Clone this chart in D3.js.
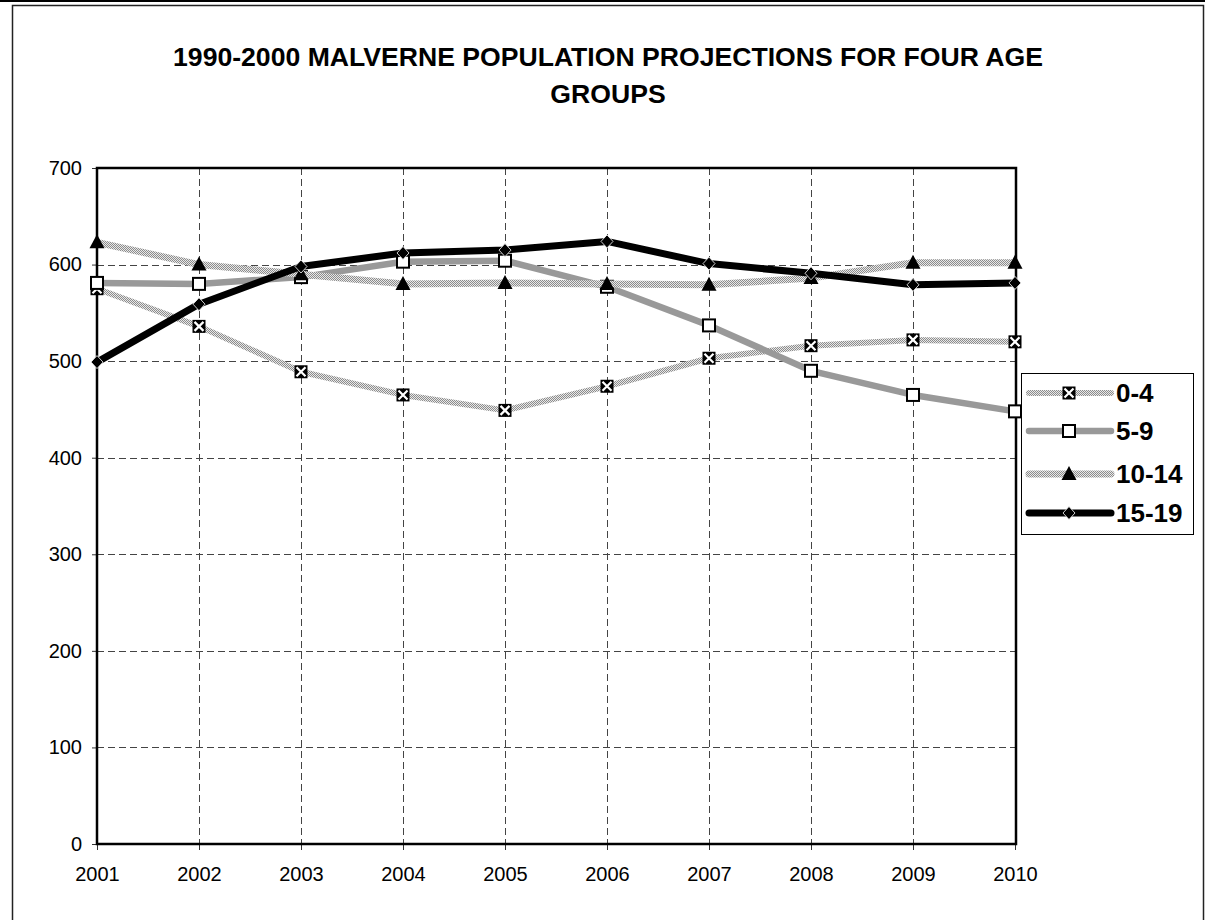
<!DOCTYPE html>
<html>
<head>
<meta charset="utf-8">
<script src="https://cdn.jsdelivr.net/npm/d3@7"></script>
<style>
  html, body { margin: 0; padding: 0; background: #fff; }
  svg { display: block; font-family: "Liberation Sans", Arial, sans-serif; }
</style>
</head>
<body>
<svg id="chart" width="1205" height="920"></svg>
<script>
// Projected population by age group, 2001-2010
const years = [2001, 2002, 2003, 2004, 2005, 2006, 2007, 2008, 2009, 2010];
const age0to4   = [575, 536, 489, 465, 449, 474, 503, 516, 522, 520];
const age5to9   = [581, 580, 587, 603, 604, 577, 537, 490, 465, 448];
const age10to14 = [623, 600, 590, 580, 581, 580, 579, 586, 602, 602];
const age15to19 = [499, 559, 598, 612, 615, 624, 601, 591, 579, 581];
const seriesNames = ["0-4", "5-9", "10-14", "15-19"];
const yTicks = [0, 100, 200, 300, 400, 500, 600, 700];
const titleLines = ["1990-2000 MALVERNE POPULATION PROJECTIONS FOR FOUR AGE", "GROUPS"];

const svg = d3.select("#chart");

// stippled fill used by the 0-4 and 10-14 lines
const defs = svg.append("defs");
const pat = defs.append("pattern").attr("id", "stipple")
  .attr("patternUnits", "userSpaceOnUse").attr("width", 2).attr("height", 2);
pat.append("rect").attr("width", 2).attr("height", 2).attr("fill", "#e8e8e8");
pat.append("rect").attr("x", 0).attr("y", 0).attr("width", 1).attr("height", 1).attr("fill", "#8c8c8c");
pat.append("rect").attr("x", 1).attr("y", 1).attr("width", 1).attr("height", 1).attr("fill", "#8c8c8c");

// page frame
svg.append("line").attr("x1", 0).attr("x2", 1205).attr("y1", 1).attr("y2", 1)
  .attr("stroke", "#000").attr("stroke-width", 2);
svg.append("rect").attr("x", 12.5).attr("y", 5.5).attr("width", 1191).attr("height", 940)
  .attr("fill", "none").attr("stroke", "#222").attr("stroke-width", 1.5);

// title
const title = svg.append("text").attr("text-anchor", "middle")
  .attr("font-weight", "bold").attr("font-size", 26.6).attr("fill", "#000");
titleLines.forEach((t, i) => {
  title.append("tspan").attr("x", 608).attr("y", 66 + i * 37).text(t);
});

const plot = { left: 97, right: 1016, top: 168, bottom: 844 };
const x = d3.scalePoint().domain(years).range([plot.left, plot.right - 1]);
const y = d3.scaleLinear().domain([0, 700]).range([plot.bottom, plot.top]);

// gridlines
const grid = svg.append("g").attr("stroke", "#444").attr("stroke-width", 1)
  .attr("stroke-dasharray", "7,4").attr("shape-rendering", "crispEdges");
grid.selectAll("line.h").data(yTicks.filter(v => v > 0 && v < 700)).join("line")
  .attr("class", "h")
  .attr("x1", plot.left).attr("x2", plot.right)
  .attr("y1", d => Math.round(y(d)) + 0.5).attr("y2", d => Math.round(y(d)) + 0.5);
grid.selectAll("line.v").data(years.slice(1, -1)).join("line")
  .attr("class", "v")
  .attr("x1", d => Math.round(x(d)) + 0.5).attr("x2", d => Math.round(x(d)) + 0.5)
  .attr("y1", plot.top).attr("y2", plot.bottom);

// axes
const yAxis = svg.append("g").attr("transform", `translate(${plot.left},0)`)
  .call(d3.axisLeft(y).tickValues(yTicks).tickSize(5).tickPadding(10));
const xAxis = svg.append("g").attr("transform", `translate(0,${plot.bottom})`)
  .call(d3.axisBottom(x).tickValues(years).tickFormat(d3.format("d")).tickSize(6).tickPadding(17));
[yAxis, xAxis].forEach(a => {
  a.attr("font-size", 20).attr("font-family", "'Liberation Sans', Arial, sans-serif");
  a.select(".domain").remove();
  a.selectAll(".tick line").attr("stroke", "#333");
  a.selectAll(".tick text").attr("fill", "#000");
});

// plot border
svg.append("rect").attr("x", plot.left).attr("y", plot.top)
  .attr("width", plot.right - plot.left).attr("height", plot.bottom - plot.top)
  .attr("fill", "none").attr("stroke", "#000").attr("stroke-width", 2.5);

// series definitions
const series = [
  { name: seriesNames[0], values: age0to4,   stroke: "url(#stipple)", width: 6, marker: "xbox" },
  { name: seriesNames[1], values: age5to9,   stroke: "#999999",      width: 6.5, marker: "square" },
  { name: seriesNames[2], values: age10to14, stroke: "url(#stipple)", width: 7, marker: "triangle" },
  { name: seriesNames[3], values: age15to19, stroke: "#000000",      width: 7, marker: "diamond" }
];

function drawMarker(g, kind, cx, cy) {
  const m = g.append("g").attr("transform", `translate(${cx},${cy})`);
  if (kind === "xbox") {
    m.append("rect").attr("x", -6.5).attr("y", -6.5).attr("width", 13).attr("height", 13).attr("fill", "#000");
    m.append("path").attr("d", "M-4.5,-4.5L4.5,4.5M4.5,-4.5L-4.5,4.5")
      .attr("stroke", "#fff").attr("stroke-width", 2.2);
  } else if (kind === "square") {
    m.append("rect").attr("x", -6).attr("y", -6).attr("width", 12).attr("height", 12)
      .attr("fill", "#fff").attr("stroke", "#000").attr("stroke-width", 2);
  } else if (kind === "triangle") {
    m.append("path").attr("d", "M0,-8L7.5,6L-7.5,6Z").attr("fill", "#000");
  } else {
    m.append("path").attr("d", "M0,-6.5L6,0L0,6.5L-6,0Z")
      .attr("fill", "#000").attr("stroke", "#fff").attr("stroke-width", 0.8);
  }
}

const line = d3.line().x((d, i) => x(years[i])).y(d => y(d));
series.forEach(s => {
  const g = svg.append("g");
  g.append("path").datum(s.values).attr("d", line)
    .attr("fill", "none").attr("stroke", s.stroke).attr("stroke-width", s.width)
    .attr("stroke-linejoin", "round").attr("stroke-linecap", "round");
  s.values.forEach((v, i) => drawMarker(g, s.marker, x(years[i]), y(v)));
});

// legend
const lg = svg.append("g");
lg.append("rect").attr("x", 1021.5).attr("y", 373.5).attr("width", 172).attr("height", 161)
  .attr("fill", "#fff").attr("stroke", "#000").attr("stroke-width", 1);
const legendY = [393, 431, 474, 513];
series.forEach((s, i) => {
  const cy = legendY[i];
  lg.append("line").attr("x1", 1029).attr("x2", 1111).attr("y1", cy).attr("y2", cy)
    .attr("stroke", s.stroke).attr("stroke-width", s.width).attr("stroke-linecap", "round");
  drawMarker(lg, s.marker, 1069, cy);
  lg.append("text").attr("x", 1116).attr("y", cy + 9).attr("font-size", 26)
    .attr("font-weight", "bold").attr("fill", "#000").text(s.name);
});
</script>
</body>
</html>
